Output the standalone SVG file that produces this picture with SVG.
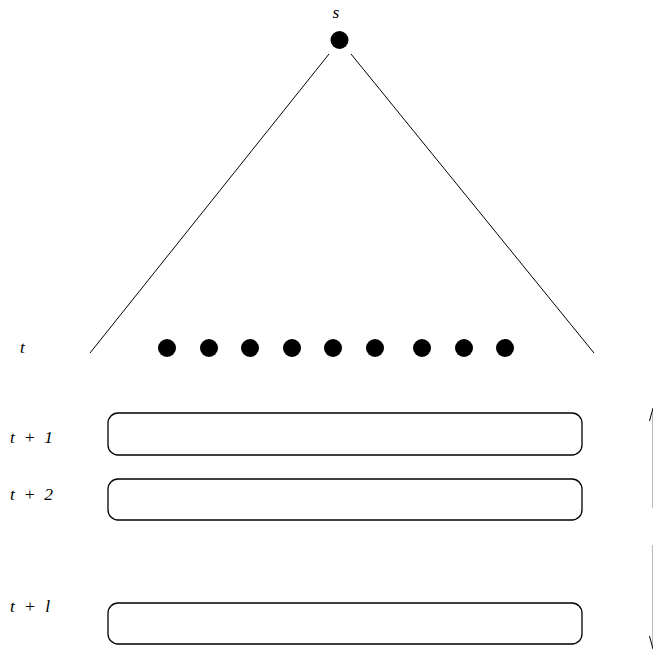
<svg xmlns="http://www.w3.org/2000/svg" width="653" height="649" viewBox="0 0 653 649">
<style>
.lbl{font-family:"Liberation Serif","Times New Roman",serif;font-style:italic;font-size:17.5px;fill:#000}
.dot{fill:#000}
.box{fill:#fff;stroke:#000;stroke-width:1.3}
.ln{stroke:#000;stroke-width:1;fill:none}
</style>
<rect width="653" height="649" fill="#fff"/>
<g id="connectors">
<line class="ln" x1="329" y1="54" x2="90" y2="353"/>
<line class="ln" x1="351" y1="54" x2="594" y2="353"/>
<line stroke="#bbb" stroke-width="1" x1="652.5" y1="410" x2="652.5" y2="508"/>
<line stroke="#bbb" stroke-width="1" x1="652.5" y1="545" x2="652.5" y2="647"/>
<path class="ln" d="M649.5,421 L653,408"/>
<path class="ln" d="M649.5,636 L653,649"/>
</g>
<g id="node-s">
<circle class="dot" cx="339.5" cy="40" r="9"/>
<text class="lbl" x="336" y="18" text-anchor="middle" font-size="15">s</text>
</g>
<g id="label-t"><text class="lbl" x="20" y="353">t</text></g>
<g id="level-t">
<circle class="dot" cx="167" cy="348" r="9"/>
<circle class="dot" cx="209" cy="348" r="9"/>
<circle class="dot" cx="250" cy="348" r="9"/>
<circle class="dot" cx="292" cy="348" r="9"/>
<circle class="dot" cx="333" cy="348" r="9"/>
<circle class="dot" cx="375" cy="348" r="9"/>
<circle class="dot" cx="422" cy="348" r="9"/>
<circle class="dot" cx="464" cy="348" r="9"/>
<circle class="dot" cx="505" cy="348" r="9"/>
</g>
<g id="row-t1">
<text class="lbl" x="10" y="443" textLength="43" lengthAdjust="spacing">t + 1</text>
<rect class="box" x="108" y="413" width="474" height="42" rx="10"/>
</g>
<g id="row-t2">
<text class="lbl" x="10" y="500" textLength="43" lengthAdjust="spacing">t + 2</text>
<rect class="box" x="108" y="479" width="474" height="41" rx="10"/>
</g>
<g id="row-tl">
<text class="lbl" x="10" y="612" textLength="40" lengthAdjust="spacing">t + l</text>
<rect class="box" x="108" y="603" width="474" height="41" rx="10"/>
</g>
</svg>
